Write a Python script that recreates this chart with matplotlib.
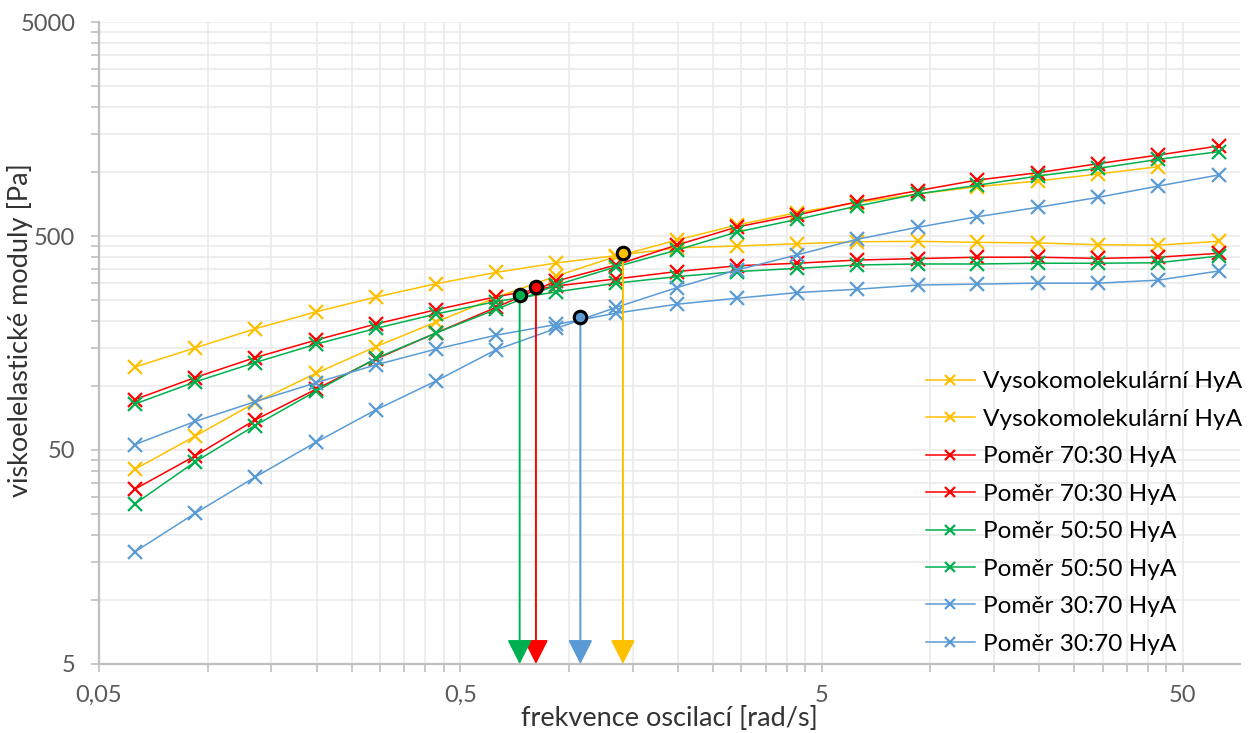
import numpy as np
import matplotlib.pyplot as plt
from matplotlib.ticker import FixedLocator, NullFormatter

plt.rcParams['font.family'] = ['Lato', 'DejaVu Sans']

# angular frequency [rad/s]
freq = [0.0628, 0.0922, 0.135, 0.199, 0.292, 0.428, 0.628, 0.922, 1.35, 1.99,
        2.92, 4.28, 6.28, 9.22, 13.5, 19.9, 29.2, 42.8, 62.8]

# moduli [Pa]: loss (flat) and storage (steep) for each sample
vys_loss = [122, 150, 184, 221, 259, 299, 338, 374, 405, 440,
            449, 460, 470, 472, 467, 464, 455, 453, 472]
vys_stor = [40.6, 58, 83, 114, 152, 198, 258, 325, 401, 479,
            563, 643, 716, 786, 850, 904, 975, 1054, np.nan]
p7030_loss = [86, 109, 135, 163, 194, 226, 260, 292, 315, 341,
              363, 373, 386, 392, 398, 398, 393, 398, 415]
p7030_stor = [32.8, 46.9, 69, 96, 133, 176, 232, 308, 366, 454,
              551, 627, 723, 814, 913, 988, 1089, 1195, 1317]
p5050_loss = [82, 104, 128, 156, 185, 216, 247, 274, 301, 323,
              341, 353, 366, 370, 370, 373, 373, 375, 403]
p5050_stor = [28, 44, 65, 94, 134, 176, 227, 295, 359, 430,
              522, 598, 690, 786, 863, 954, 1036, 1141, 1238]
p3070_loss = [53, 68, 84, 103, 125, 148, 172, 193, 218, 240,
              256, 272, 282, 295, 298, 301, 301, 311, 343]
p3070_stor = [16.7, 25.3, 37.3, 54.3, 77, 105, 147, 185, 232, 287,
              347, 408, 483, 549, 615, 681, 758, 856, 964]

labels = ['Vysokomolekulární HyA', 'Poměr 70:30 HyA', 'Poměr 50:50 HyA', 'Poměr 30:70 HyA']
colors = ['#FFC000', '#FF0000', '#00B050', '#5B9BD5']

# crossover points (G' = G'')
cross_x = [1.41, 0.81, 0.73, 1.075]
cross_y = [417, 289, 265, 209]

fig = plt.figure(figsize=(12.48, 7.33), dpi=100)
ax = fig.add_axes([99 / 1248, 1 - 664 / 733, (1240 - 99) / 1248, (664 - 22) / 733])

series = [(vys_loss, vys_stor), (p7030_loss, p7030_stor),
          (p5050_loss, p5050_stor), (p3070_loss, p3070_stor)]
for (g2, g1), lab, c in zip(series, labels, colors):
    for vals in (g2, g1):
        ax.plot(freq, vals, color=c, lw=1.1, marker='x', ms=10, mew=1.6, label=lab, zorder=3)

ax.set_xscale('log')
ax.set_yscale('log')
ax.set_xlim(0.05, 72)
ax.set_ylim(5, 5000)

# crossover markers with arrows to the x axis
for cx, cy, c in zip(cross_x, cross_y, colors):
    ax.annotate('', xy=(cx, 5), xytext=(cx, cy),
                arrowprops=dict(arrowstyle='-|>,head_length=0.75,head_width=0.38',
                                color=c, lw=1.4, mutation_scale=20,
                                shrinkA=0, shrinkB=0), zorder=4)
    ax.plot(cx, cy, 'o', ms=9, mfc=c, mec='black', mew=2.2, zorder=5)

# Excel style log ticks (multiples of 5 * 10^n)
xmajor = [0.05, 0.5, 5, 50]
ymajor = [5, 50, 500, 5000]
xminor = [m * k for m in [0.05, 0.5, 5, 50] for k in range(2, 10) if m * k < 72]
yminor = [m * k for m in [5, 50, 500] for k in range(2, 10)]
ax.xaxis.set_major_locator(FixedLocator(xmajor))
ax.yaxis.set_major_locator(FixedLocator(ymajor))
ax.xaxis.set_minor_locator(FixedLocator(xminor))
ax.yaxis.set_minor_locator(FixedLocator(yminor))
ax.set_xticklabels(['0,05', '0,5', '5', '50'])
ax.set_yticklabels(['5', '50', '500', '5000'])
ax.xaxis.set_minor_formatter(NullFormatter())
ax.yaxis.set_minor_formatter(NullFormatter())

ax.grid(True, which='both', color='#E9E9E9', lw=1.1, zorder=0)
ax.set_axisbelow(True)
for s in ['top', 'right']:
    ax.spines[s].set_visible(False)
for s in ['left', 'bottom']:
    ax.spines[s].set_color('#BFBFBF')
    ax.spines[s].set_linewidth(1.6)
ax.tick_params(which='both', direction='out', color='#BFBFBF', length=6, width=1.2,
               labelsize=17, labelcolor='#595959')
ax.tick_params(axis='x', pad=9)
ax.tick_params(axis='y', pad=11)

ax.set_xlabel('frekvence oscilací [rad/s]', fontsize=19.5, color='#333333', labelpad=0)
ax.set_ylabel('viskoelelastické moduly [Pa]', fontsize=19.5, color='#333333')
ax.yaxis.label.set_va('center')
ax.yaxis.set_label_coords((20 - 99) / 1141, (664 - 330) / 642)

ax.legend(loc='upper left', bbox_to_anchor=(926 / 1248, 1 - 371 / 733),
          bbox_transform=fig.transFigure, frameon=False, fontsize=17.6,
          handlelength=2.0, handletextpad=0.35, labelspacing=0.67,
          borderpad=0, borderaxespad=0, markerscale=0.75)

fig.savefig('out.png', dpi=100)
